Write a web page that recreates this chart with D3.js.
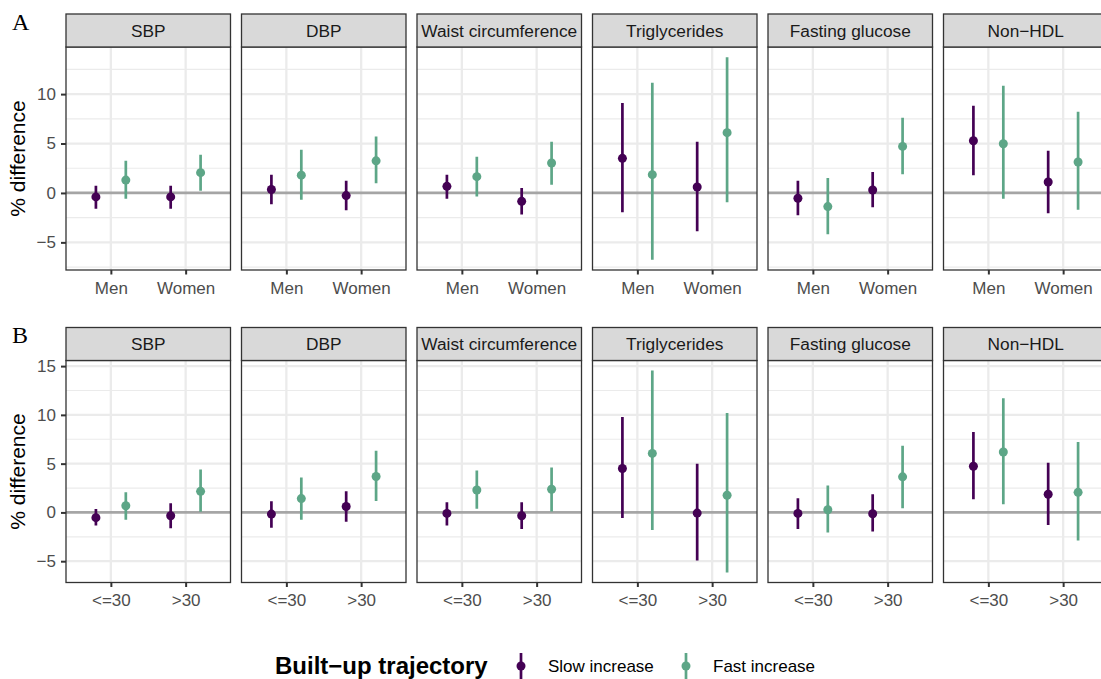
<!DOCTYPE html>
<html>
<head>
<meta charset="utf-8">
<script src="https://cdn.jsdelivr.net/npm/d3@7"></script>
<style>
    body { margin: 0; background: #ffffff; }
    text { font-family: "Liberation Sans", Arial, Helvetica, sans-serif; }
</style>
</head>
<body>
<div id="chart"></div>
<script>
// Facets, groups and series
var measures = ["SBP", "DBP", "Waist circumference", "Triglycerides", "Fasting glucose", "Non\u2212HDL"];
var sexGroups = ["Men", "Women"];
var bmiGroups = ["<=30", ">30"];
var trajectories = ["Slow increase", "Fast increase"];

// Panel A (by sex): per measure -> [Men slow, Men fast, Women slow, Women fast]
var sexEstimate = [
    [-0.40, 1.30, -0.40, 2.05],
    [0.35, 1.80, -0.27, 3.25],
    [0.67, 1.65, -0.85, 3.03],
    [3.50, 1.85, 0.60, 6.10],
    [-0.54, -1.38, 0.30, 4.71],
    [5.28, 4.98, 1.11, 3.13]
];
var sexLower = [
    [-1.60, -0.58, -1.60, 0.23],
    [-1.15, -0.68, -1.76, 0.97],
    [-0.58, -0.37, -2.19, 0.84],
    [-1.96, -6.77, -3.88, -0.95],
    [-2.26, -4.18, -1.45, 1.88],
    [1.78, -0.58, -2.06, -1.69]
];
var sexUpper = [
    [0.74, 3.26, 0.74, 3.87],
    [1.85, 4.37, 1.24, 5.72],
    [1.85, 3.67, 0.50, 5.18],
    [9.09, 11.14, 5.18, 13.74],
    [1.24, 1.51, 2.12, 7.60],
    [8.82, 10.84, 4.27, 8.21]
];

// Panel B (by BMI): per measure -> [<=30 slow, <=30 fast, >30 slow, >30 fast]
var bmiEstimate = [
    [-0.54, 0.68, -0.34, 2.16],
    [-0.17, 1.42, 0.61, 3.68],
    [-0.10, 2.30, -0.34, 2.37],
    [4.50, 6.05, -0.07, 1.76],
    [-0.10, 0.27, -0.14, 3.65],
    [4.73, 6.19, 1.86, 2.06]
];
var bmiLower = [
    [-1.35, -0.74, -1.62, 0.07],
    [-1.56, -0.74, -0.95, 1.18],
    [-1.35, 0.37, -1.69, 0.10],
    [-0.57, -1.79, -4.94, -6.15],
    [-1.69, -2.06, -1.96, 0.44],
    [1.35, 0.85, -1.28, -2.87]
];
var bmiUpper = [
    [0.34, 2.06, 0.95, 4.39],
    [1.15, 3.58, 2.16, 6.32],
    [1.05, 4.29, 1.05, 4.60],
    [9.77, 14.54, 5.00, 10.18],
    [1.45, 2.77, 1.86, 6.83],
    [8.25, 11.70, 5.10, 7.23]
];

var trajectoryColors = ["#440154", "#5DA687"];

// Layout
var layout = { left: 66, step: 175.5, width: 164.5, stripHeight: 33 };
var rows = [
    { tag: "A", groups: sexGroups, est: sexEstimate, low: sexLower, high: sexUpper, stripTop: 14, bottom: 270 },
    { tag: "B", groups: bmiGroups, est: bmiEstimate, low: bmiLower, high: bmiUpper, stripTop: 327.5, bottom: 582.5 }
];

var svg = d3.select("#chart")
    .append("svg")
    .attr("width", 1101)
    .attr("height", 679);

function drawRow(row, r) {
    var top = row.stripTop + layout.stripHeight;
    var height = row.bottom - top;

    // Long format rows for this panel set
    var data = [];
    measures.forEach(function (m, i) {
        row.groups.forEach(function (g, gi) {
            trajectories.forEach(function (t, ti) {
                var k = gi * 2 + ti;
                data.push({ measure: i, group: g, traj: ti, est: row.est[i][k], low: row.low[i][k], high: row.high[i][k] });
            });
        });
    });

    // y scale with ggplot-like 5% expansion
    var lo = d3.min(data, function (d) { return d.low; });
    var hi = d3.max(data, function (d) { return d.high; });
    var pad = (hi - lo) * 0.05;
    var y = d3.scaleLinear().domain([lo - pad, hi + pad]).range([height, 0]);
    var ticks = y.ticks(5);
    var stepT = ticks[1] - ticks[0];
    var minor = [];
    for (var v = ticks[0] - stepT / 2; v <= ticks[ticks.length - 1] + stepT; v += stepT) {
        if (v > y.domain()[0] && v < y.domain()[1]) minor.push(v);
    }

    var x = d3.scalePoint().domain(row.groups).range([0, layout.width]).padding(0.6);
    var dodge = x.step() * 0.2;

    measures.forEach(function (m, i) {
        var left = layout.left + i * layout.step;
        var g = svg.append("g").attr("transform", "translate(" + left + "," + top + ")");

        var clipId = "clip" + r + "_" + i;
        g.append("clipPath").attr("id", clipId)
            .append("rect").attr("width", layout.width).attr("height", height);

        var panel = g.append("g").attr("clip-path", "url(#" + clipId + ")");
        panel.append("rect").attr("width", layout.width).attr("height", height).attr("fill", "#ffffff");

        // Grid lines
        panel.selectAll(".minor").data(minor).enter().append("line")
            .attr("x1", 0).attr("x2", layout.width)
            .attr("y1", function (d) { return y(d); }).attr("y2", function (d) { return y(d); })
            .attr("stroke", "#ebebeb").attr("stroke-width", 1.2);
        panel.selectAll(".major").data(ticks).enter().append("line")
            .attr("x1", 0).attr("x2", layout.width)
            .attr("y1", function (d) { return y(d); }).attr("y2", function (d) { return y(d); })
            .attr("stroke", "#ebebeb").attr("stroke-width", 2.3);
        panel.selectAll(".vmajor").data(row.groups).enter().append("line")
            .attr("x1", function (d) { return x(d); }).attr("x2", function (d) { return x(d); })
            .attr("y1", 0).attr("y2", height)
            .attr("stroke", "#ebebeb").attr("stroke-width", 2.3);

        // Reference line at zero
        panel.append("line")
            .attr("x1", 0).attr("x2", layout.width)
            .attr("y1", y(0)).attr("y2", y(0))
            .attr("stroke", "#808080").attr("stroke-opacity", 0.65).attr("stroke-width", 2.8);

        var pts = data.filter(function (d) { return d.measure === i; });
        var cx = function (d) { return x(d.group) + (d.traj === 0 ? -dodge : dodge); };

        // Confidence intervals
        panel.selectAll(".ci").data(pts).enter().append("line")
            .attr("x1", cx).attr("x2", cx)
            .attr("y1", function (d) { return y(d.low); })
            .attr("y2", function (d) { return y(d.high); })
            .attr("stroke", function (d) { return trajectoryColors[d.traj]; })
            .attr("stroke-width", 2.7);

        // Estimates
        panel.selectAll(".pt").data(pts).enter().append("circle")
            .attr("cx", cx)
            .attr("cy", function (d) { return y(d.est); })
            .attr("r", 4.5)
            .attr("fill", function (d) { return trajectoryColors[d.traj]; });

        // Panel border
        g.append("rect").attr("width", layout.width).attr("height", height)
            .attr("fill", "none").attr("stroke", "#333333").attr("stroke-width", 1.3);

        // Strip
        svg.append("rect")
            .attr("x", left).attr("y", row.stripTop)
            .attr("width", layout.width).attr("height", layout.stripHeight)
            .attr("fill", "#d9d9d9").attr("stroke", "#333333").attr("stroke-width", 1.3);
        svg.append("text")
            .attr("x", left + layout.width / 2)
            .attr("y", row.stripTop + layout.stripHeight / 2 + 6)
            .attr("text-anchor", "middle")
            .style("font-size", "17.3px")
            .style("fill", "#1a1a1a")
            .text(m);

        // x axis
        var xAxis = g.append("g")
            .attr("transform", "translate(0," + height + ")")
            .call(d3.axisBottom(x).tickSize(4.5).tickSizeOuter(0).tickPadding(7));
        xAxis.select(".domain").remove();
        xAxis.selectAll("line").attr("stroke", "#333333").attr("stroke-width", 2);
        xAxis.selectAll("text").style("font-size", "17px").style("fill", "#4d4d4d")
            .attr("font-family", null);

        // y axis on first panel only
        if (i === 0) {
            var yAxis = g.append("g")
                .call(d3.axisLeft(y).tickValues(ticks).tickSize(5).tickPadding(5).tickFormat(d3.format("d")));
            yAxis.select(".domain").remove();
            yAxis.selectAll("line").attr("stroke", "#333333").attr("stroke-width", 2);
            yAxis.selectAll("text").style("font-size", "17px").style("fill", "#4d4d4d")
                .attr("font-family", null);
        }
    });

    // y axis title
    svg.append("text")
        .attr("transform", "translate(25," + (top + height / 2) + ") rotate(-90)")
        .attr("text-anchor", "middle")
        .style("font-size", "21px")
        .style("fill", "#000000")
        .text("% difference");

    // Row tag
    svg.append("text")
        .attr("x", 12)
        .attr("y", row.stripTop + 15.5)
        .style("font-family", "'Liberation Serif', 'DejaVu Serif', serif")
        .style("font-size", "24px")
        .text(row.tag);
}

rows.forEach(drawRow);

// Legend
var legend = svg.append("g");
legend.append("text")
    .attr("x", 275).attr("y", 674)
    .style("font-size", "24px")
    .style("font-weight", "bold")
    .text("Built\u2212up trajectory");

var legendX = [521, 686];
trajectories.forEach(function (t, i) {
    legend.append("line")
        .attr("x1", legendX[i]).attr("x2", legendX[i])
        .attr("y1", 653).attr("y2", 680)
        .attr("stroke", trajectoryColors[i]).attr("stroke-width", 2.7);
    legend.append("circle")
        .attr("cx", legendX[i]).attr("cy", 666).attr("r", 4.5)
        .attr("fill", trajectoryColors[i]);
    legend.append("text")
        .attr("x", legendX[i] + 27).attr("y", 672)
        .style("font-size", "17px")
        .text(t);
});
</script>
</body>
</html>
